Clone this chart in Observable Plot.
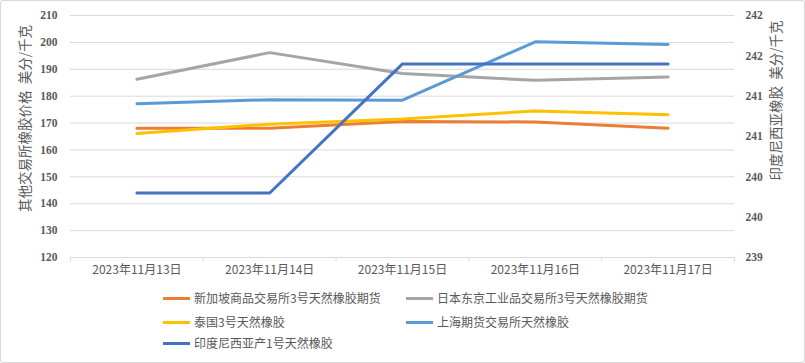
<!DOCTYPE html>
<html><head><meta charset="utf-8">
<script src="https://cdn.jsdelivr.net/npm/d3@7"></script>
<script src="https://cdn.jsdelivr.net/npm/@observablehq/plot@0.6"></script>
<style>
body{margin:0;background:#fff;}
#chart{position:relative;width:805px;height:363px;box-sizing:border-box;box-shadow:inset 0 0 0 1px #d9d9d9;border-radius:3px;overflow:hidden;background:#fff;}
#chart svg{position:absolute;left:0;top:0;overflow:visible;}
.leg{position:absolute;font-family:"Noto Sans CJK SC";font-size:12px;color:#595959;display:flex;align-items:center;white-space:nowrap;line-height:1;}
.leg .sw{display:inline-block;width:27px;height:3px;margin-right:4px;}
</style></head><body><div id="chart"></div>
<script>
// ---- data ----
const dates = ["2023年11月13日","2023年11月14日","2023年11月15日","2023年11月16日","2023年11月17日"];
const seriesNames = ["新加坡商品交易所3号天然橡胶期货","日本东京工业品交易所3号天然橡胶期货","泰国3号天然橡胶","上海期货交易所天然橡胶","印度尼西亚产1号天然橡胶"];
const seriesColors = ["#ED7D31","#A5A5A5","#FFC000","#5B9BD5","#4472C4"];
const singapore = [168.1, 168.1, 170.6, 170.4, 168.1];
const japan     = [186.3, 196.2, 188.4, 185.9, 187.1];
const thailand  = [166.1, 169.6, 171.5, 174.5, 173.1];
const shanghai  = [177.2, 178.7, 178.5, 200.2, 199.2];
const indonesia = [239.8, 239.8, 241.4, 241.4, 241.4]; // right axis
const leftTicks  = [120,130,140,150,160,170,180,190,200,210];
const rightTicks = [239,239.5,240,240.5,241,241.5,242];
const leftTitle  = "其他交易所橡胶价格  美分/千克";
const rightTitle = "印度尼西亚橡胶  美分/千克";

// ---- build ----
const L0 = leftTicks[0], L1 = leftTicks[leftTicks.length-1];
const R0 = rightTicks[0], R1 = rightTicks[rightTicks.length-1];
const toLeft = v => L0 + (v - R0) * (L1 - L0) / (R1 - R0);
const fromLeft = v => R0 + (v - L0) * (R1 - R0) / (L1 - L0);
const keepSpaces = t => t.replace(/ /g, "\u00a0");

const seriesValues = [singapore, japan, thailand, shanghai, indonesia];
const onRight = [false,false,false,false,true];
const series = seriesNames.map((name,k)=>({
  name, color: seriesColors[k],
  rows: dates.map((d,i)=>({i, y: onRight[k] ? toLeft(seriesValues[k][i]) : seriesValues[k][i]}))
}));

const sans = '"Noto Sans CJK SC", sans-serif';
const serif = '"Liberation Serif", serif';

const plot = Plot.plot({
  width: 805, height: 285,
  marginLeft: 70, marginRight: 71, marginTop: 15, marginBottom: 28,
  style: {background: "transparent", color: "#595959", overflow: "visible"},
  x: {type: "linear", domain: [-0.5, dates.length - 0.5]},
  y: {domain: [L0, L1]},
  marks: [
    Plot.gridY({ticks: leftTicks, stroke: "#d9d9d9", strokeOpacity: 1, strokeWidth: 1}),
    Plot.axisX({ticks: d3.range(-0.5, dates.length, 1), tickSize: 4, stroke: "#d9d9d9", strokeOpacity: 1, tickFormat: () => "", label: null}),
    Plot.axisX({ticks: d3.range(0, dates.length), tickSize: 0, tickPadding: 8, tickFormat: i => dates[i], label: null,
      fontFamily: sans, fontSize: 12, fill: "#595959"}),
    Plot.axisY({ticks: leftTicks, tickSize: 0, tickPadding: 13, label: null,
      fontFamily: serif, fontWeight: "bold", fontSize: 11.5, fill: "#595959"}),
    Plot.axisY({anchor: "right", ticks: rightTicks.map(toLeft), tickSize: 0, tickPadding: 11, label: null,
      tickFormat: v => String(Math.round(+fromLeft(v).toFixed(3))),
      fontFamily: serif, fontWeight: "bold", fontSize: 11.5, fill: "#595959"}),
    Plot.text([leftTitle], {text: keepSpaces, frameAnchor: "left", textAnchor: "middle", rotate: -90, dx: -45, dy: -18, fontFamily: sans, fontSize: 13.5, fill: "#595959"}),
    Plot.text([rightTitle], {text: keepSpaces, frameAnchor: "right", textAnchor: "middle", rotate: -90, dx: 42, dy: -36, fontFamily: sans, fontSize: 13.5, fill: "#595959"}),
    ...series.map(s => Plot.line(s.rows, {x: "i", y: "y", stroke: s.color, strokeWidth: 3, strokeLinejoin: "round", strokeLinecap: "round"}))
  ]
});
const chart = document.getElementById("chart");
chart.appendChild(plot);

// legend (two columns)
const legPos = [[163,299],[406,299],[163,323],[406,323],[163,344]];
series.forEach((s,k)=>{
  const el = document.createElement("div");
  el.className = "leg";
  el.style.left = legPos[k][0] + "px";
  el.style.top = (legPos[k][1] - 7) + "px";
  el.innerHTML = `<span class="sw" style="background:${s.color}"></span><span>${s.name}</span>`;
  chart.appendChild(el);
});
</script></body></html>
